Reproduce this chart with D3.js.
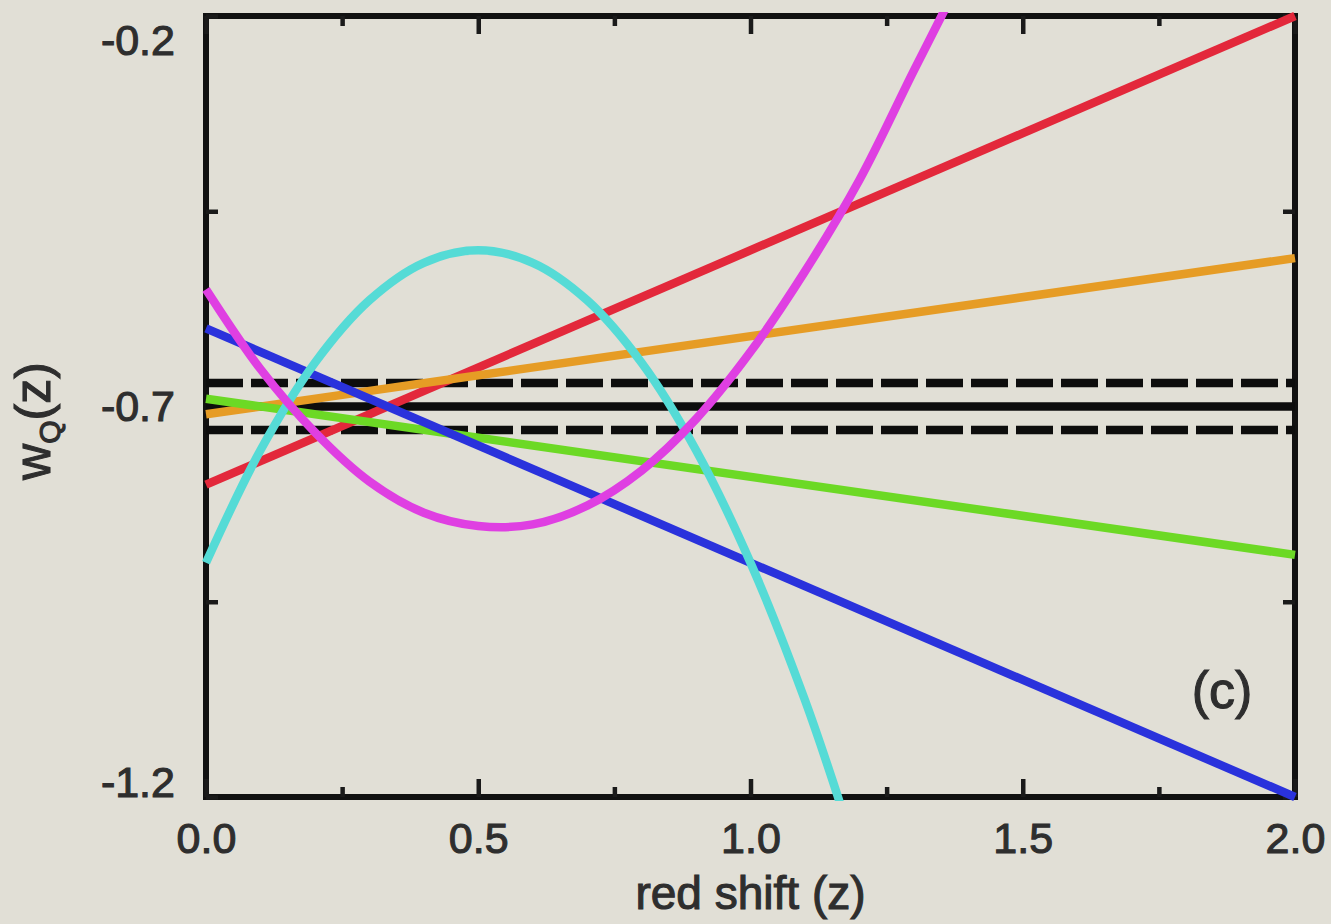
<!DOCTYPE html>
<html>
<head>
<meta charset="utf-8">
<script src="https://cdn.jsdelivr.net/npm/d3@7"></script>
<style>
  body { margin: 0; background: #e1dfd6; }
  svg { display: block; }
  text { font-family: "Liberation Sans", Arial, Helvetica, sans-serif; fill: #2e2e2e; }
</style>
</head>
<body>
<script>
// values
const lineZ = [0, 2];
const redW = [-0.80, -0.20];
const orangeW = [-0.71, -0.51];
const greenW = [-0.69, -0.89];
const blueW = [-0.60, -1.20];

const cyanZ = [0, 0.1, 0.2, 0.3, 0.4, 0.5, 0.6, 0.7, 0.8, 0.9, 1.0, 1.1, 1.17];
const cyanW = [-0.90, -0.756, -0.644, -0.564, -0.516, -0.50, -0.516, -0.564, -0.644, -0.756, -0.90, -1.076, -1.22];

const magentaZ = [0, 0.1, 0.2, 0.3, 0.4, 0.5, 0.6, 0.7, 0.8, 0.9, 1.0, 1.1, 1.2, 1.3, 1.38];
const magentaW = [-0.55, -0.652, -0.733, -0.796, -0.836, -0.853, -0.851, -0.827, -0.782, -0.716, -0.630, -0.527, -0.41, -0.27, -0.16];

const refW = [-0.67, -0.70, -0.73];   // dashed, solid, dashed

const xMajor = [0, 0.5, 1, 1.5, 2];
const xMajorLabels = ["0.0", "0.5", "1.0", "1.5", "2.0"];
const xMinor = [0.25, 0.75, 1.25, 1.75];
const yTicks = [-1.2, -0.95, -0.7, -0.45, -0.2];
const yLabelled = [-1.2, -0.7, -0.2];
const yLabels = ["-1.2", "-0.7", "-0.2"];

const W = 1331, H = 924;
const margin = { top: 16, right: 36, bottom: 127, left: 206 };
const ink = "#2e2e2e";

const svg = d3.select("body").append("svg")
  .attr("width", W)
  .attr("height", H);

svg.append("rect").attr("width", W).attr("height", H).attr("fill", "#e1dfd6");

const x = d3.scaleLinear().domain([0, 2]).range([margin.left, W - margin.right]);
const y = d3.scaleLinear().domain([-1.2, -0.2]).range([H - margin.bottom, margin.top]);

// clip, a bit wider than the frame so line ends sit on the border
svg.append("clipPath").attr("id", "plot")
  .append("rect")
  .attr("x", x(0) - 4).attr("y", y(-0.2) - 4)
  .attr("width", x(2) - x(0) + 8).attr("height", y(-1.2) - y(-0.2) + 8);

// frame
svg.append("rect")
  .attr("x", x(0)).attr("y", y(-0.2))
  .attr("width", x(2) - x(0)).attr("height", y(-1.2) - y(-0.2))
  .attr("fill", "none").attr("stroke", "#111").attr("stroke-width", 6);

function styleTicks(g, w) {
  g.select(".domain").remove();
  g.selectAll(".tick line").attr("stroke", "#1a1a1a").attr("stroke-width", w);
}

function styleLabels(sel, size) {
  sel.attr("font-size", size).attr("fill", ink).attr("stroke", ink).attr("stroke-width", 1.1)
    .attr("font-family", "Liberation Sans, Arial, sans-serif");
}

// x axes (bottom labelled, top bare), ticks point inward
const xb = svg.append("g").attr("transform", `translate(0,${y(-1.2)})`)
  .call(d3.axisBottom(x).tickValues(xMajor).tickSizeInner(-18).tickSizeOuter(0).tickPadding(25)
    .tickFormat((d, i) => xMajorLabels[i]));
styleTicks(xb, 4.5);
styleLabels(xb.selectAll("text"), 43);

svg.append("g").attr("transform", `translate(0,${y(-1.2)})`)
  .call(d3.axisBottom(x).tickValues(xMinor).tickSizeInner(-10).tickSizeOuter(0).tickFormat(""))
  .call(g => styleTicks(g, 4.5));

svg.append("g").attr("transform", `translate(0,${y(-0.2)})`)
  .call(d3.axisTop(x).tickValues(xMajor).tickSizeInner(-18).tickSizeOuter(0).tickFormat(""))
  .call(g => styleTicks(g, 4.5));
svg.append("g").attr("transform", `translate(0,${y(-0.2)})`)
  .call(d3.axisTop(x).tickValues(xMinor).tickSizeInner(-10).tickSizeOuter(0).tickFormat(""))
  .call(g => styleTicks(g, 4.5));

// y axes
svg.append("g").attr("transform", `translate(${x(0)},0)`)
  .call(d3.axisLeft(y).tickValues(yTicks).tickSizeInner(-12).tickSizeOuter(0).tickFormat(""))
  .call(g => styleTicks(g, 4.5));
svg.append("g").attr("transform", `translate(${x(2)},0)`)
  .call(d3.axisRight(y).tickValues(yTicks).tickSizeInner(-12).tickSizeOuter(0).tickFormat(""))
  .call(g => styleTicks(g, 4.5));

const yl = svg.append("g").attr("transform", `translate(${x(0)},0)`)
  .call(d3.axisLeft(y).tickValues(yLabelled).tickSize(0).tickPadding(31)
    .tickFormat((d, i) => yLabels[i]));
yl.select(".domain").remove();
// end labels sit a little inside the frame in the original
const yNudge = { "-1.2": -14, "-0.7": 0, "-0.2": 25 };
styleLabels(yl.selectAll("text"), 43);
yl.selectAll("text").attr("transform", d => `translate(0,${yNudge[String(d)]})`);

// lines
const plot = svg.append("g").attr("clip-path", "url(#plot)");

const ref = plot.append("g");
refW.forEach((w, i) => {
  ref.append("line")
    .attr("x1", x(0)).attr("x2", x(2))
    .attr("y1", y(w)).attr("y2", y(w))
    .attr("stroke", "#0d0d0d")
    .attr("stroke-width", 8.5)
    .attr("stroke-dasharray", i === 1 ? null : "37,8");
});

const line = d3.line().x(d => x(d[0])).y(d => y(d[1]));
const smooth = d3.line().x(d => x(d[0])).y(d => y(d[1])).curve(d3.curveCatmullRom);

const series = [
  { z: lineZ, w: redW, color: "#e3283b", gen: line },
  { z: lineZ, w: orangeW, color: "#e69c25", gen: line },
  { z: lineZ, w: greenW, color: "#6cd925", gen: line },
  { z: lineZ, w: blueW, color: "#2a32dc", gen: line },
  { z: cyanZ, w: cyanW, color: "#55dbd6", gen: smooth },
  { z: magentaZ, w: magentaW, color: "#df3fe2", gen: smooth }
];

series.forEach(s => {
  plot.append("path")
    .datum(s.z.map((z, i) => [z, s.w[i]]))
    .attr("d", s.gen)
    .attr("fill", "none")
    .attr("stroke", s.color)
    .attr("stroke-width", 8.5)
    .attr("stroke-linejoin", "round");
});

// titles
svg.append("text")
  .attr("x", x(1)).attr("y", 909)
  .attr("text-anchor", "middle")
  .attr("font-size", 46)
  .attr("stroke", ink).attr("stroke-width", 1.1)
  .text("red shift (z)");

const yt = svg.append("text")
  .attr("transform", `translate(50,${421}) rotate(-90)`)
  .attr("text-anchor", "middle")
  .attr("font-size", 50)
  .attr("stroke", ink).attr("stroke-width", 1.1);
yt.append("tspan").text("w");
yt.append("tspan").attr("font-size", 30).attr("dy", 10).text("Q");
yt.append("tspan").attr("dy", -10).text("(z)");

svg.append("text")
  .attr("x", 1222).attr("y", 708)
  .attr("text-anchor", "middle")
  .attr("font-size", 52)
  .attr("stroke", ink).attr("stroke-width", 1.1)
  .text("(c)");
</script>
</body>
</html>
